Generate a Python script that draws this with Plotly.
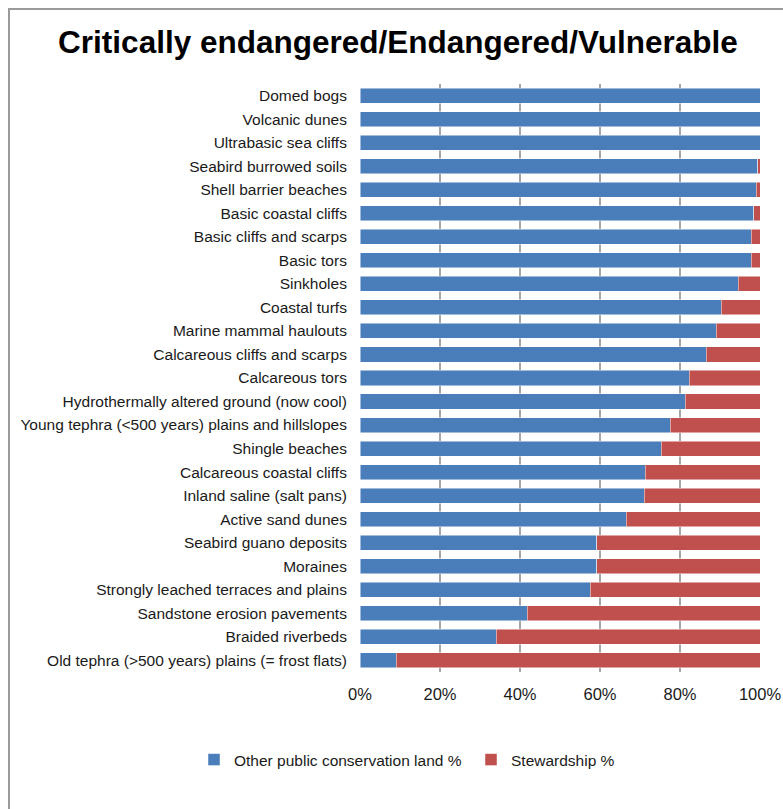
import plotly.graph_objects as go

categories = [
    "Domed bogs", "Volcanic dunes", "Ultrabasic sea cliffs", "Seabird burrowed soils",
    "Shell barrier beaches", "Basic coastal cliffs", "Basic cliffs and scarps", "Basic tors",
    "Sinkholes", "Coastal turfs", "Marine mammal haulouts", "Calcareous cliffs and scarps",
    "Calcareous tors", "Hydrothermally altered ground (now cool)",
    "Young tephra (<500 years) plains and hillslopes", "Shingle beaches",
    "Calcareous coastal cliffs", "Inland saline (salt pans)", "Active sand dunes",
    "Seabird guano deposits", "Moraines", "Strongly leached terraces and plains",
    "Sandstone erosion pavements", "Braided riverbeds",
    "Old tephra (>500 years) plains (= frost flats)",
]
other_public = [100, 100, 100, 99.4, 99.1, 98.4, 97.8, 97.8, 94.6, 90.3, 89.1, 86.5,
                82.3, 81.3, 77.5, 75.3, 71.3, 71.0, 66.6, 59.2, 59.2, 57.6, 41.8, 34.1, 9.0]
stewardship = [round(100 - v, 1) for v in other_public]

x_ticks = [0, 20, 40, 60, 80, 100]
x_tick_labels = ["0%", "20%", "40%", "60%", "80%", "100%"]

BLUE = "#4a7ebb"
RED = "#c0504d"
FONT = "Liberation Sans, Arial, sans-serif"

fig = go.Figure()
fig.add_trace(go.Bar(
    y=categories, x=other_public, orientation="h",
    name="Other public conservation land %", legend="legend",
    marker=dict(color=BLUE, line=dict(color="rgba(255,255,255,0.6)", width=0.8)),
))
fig.add_trace(go.Bar(
    y=categories, x=stewardship, orientation="h",
    name="Stewardship %", legend="legend2",
    marker=dict(color=RED, line=dict(color="rgba(255,255,255,0.6)", width=0.8)),
))

W, H = 783, 809
L, R, T, B = 360, 23, 84, 137
pw, ph = W - L - R, H - T - B

def px(xp):
    return (xp - L) / pw

def py(yp):
    return (H - B - yp) / ph

legend_common = dict(
    orientation="h", xref="container", xanchor="left",
    yref="container", y=1 - 760 / H, yanchor="middle",
    font=dict(size=15.5, family=FONT, color="#1a1a1a"),
    itemwidth=30, bgcolor="rgba(0,0,0,0)",
)

fig.update_layout(
    width=W, height=H,
    barmode="stack", bargap=0.36,
    plot_bgcolor="white", paper_bgcolor="white",
    margin=dict(l=L, r=R, t=T, b=B, autoexpand=False),
    font=dict(family=FONT, color="#1a1a1a", size=15),
    title=dict(
        text="<b>Critically endangered/Endangered/Vulnerable</b>",
        x=px(398), xref="paper", xanchor="center",
        y=1 - 42 / H, yref="container", yanchor="middle",
        font=dict(family=FONT, size=31.5, color="black"),
    ),
    xaxis=dict(
        range=[0, 100], tickvals=x_ticks, ticktext=x_tick_labels,
        showgrid=True, gridcolor="#a6a6a6", gridwidth=2,
        zeroline=False, showline=False, automargin=False,
        ticks="outside", ticklen=7, tickcolor="rgba(0,0,0,0)",
        tickfont=dict(size=16.5, family=FONT, color="#1a1a1a"),
        fixedrange=True,
    ),
    yaxis=dict(
        autorange="reversed", showgrid=False, zeroline=False, showline=False,
        automargin=False,
        ticks="outside", ticklen=9, tickcolor="rgba(0,0,0,0)",
        tickfont=dict(size=15.5, family=FONT, color="#1a1a1a"),
        fixedrange=True,
    ),
    legend=dict(x=194 / W, **legend_common),
    legend2=dict(x=471 / W, **legend_common),
    showlegend=True,
)

# chart frame (only left/top edges visible in the window)
fig.add_shape(type="rect", xref="paper", yref="paper",
              x0=px(9), x1=px(900), y0=py(900), y1=py(9),
              line=dict(color="#9a9a9a", width=2), fillcolor="rgba(0,0,0,0)", layer="below")

fig.write_html("out.html")
